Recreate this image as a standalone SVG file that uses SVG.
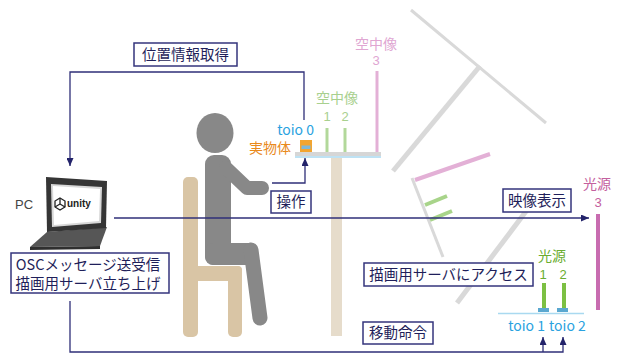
<svg xmlns="http://www.w3.org/2000/svg" width="618" height="354" viewBox="0 0 618 354">
  <style>
    .lbl { font-family: "Noto Sans CJK JP", "Noto Sans", sans-serif; font-size: 14.5px; fill: #1f1f5a; text-anchor: middle; }
    .box { fill: #ffffff; stroke: #34347c; stroke-width: 1.5; }
    .wire { fill: none; stroke: #2f2f78; stroke-width: 1.3; }
    .cjk { font-family: "Noto Sans CJK JP", "Noto Sans", sans-serif; text-anchor: middle; font-size: 14px; }
    .num { font-family: "Liberation Sans", Arial, sans-serif; text-anchor: middle; font-size: 13px; }
    .toio { font-family: "Noto Sans CJK JP", "Noto Sans", sans-serif; font-size: 14px; fill: #2aa2e0; }
    .mirror { stroke: #d9d9d9; fill: none; }
  </style>
  <defs>
    <marker id="arrow" markerUnits="userSpaceOnUse" markerWidth="8" markerHeight="7" refX="8" refY="3.5" orient="auto">
      <path d="M0,0 L8,3.5 L0,7 z" fill="#23236a"/>
    </marker>
  </defs>
  <rect width="618" height="354" fill="#ffffff"/>

  <!-- mirror / half-mirror setup -->
  <g id="optics">
    <line class="mirror" x1="411" y1="10" x2="546" y2="123" stroke-width="3"/>
    <line class="mirror" x1="393" y1="171" x2="480" y2="66" stroke-width="5"/>
    <line class="mirror" x1="412" y1="178" x2="443" y2="257" stroke-width="3"/>
    <line class="mirror" x1="530" y1="206" x2="457" y2="303" stroke-width="5"/>
    <line x1="415" y1="180" x2="490" y2="154" stroke="#e3b0d6" stroke-width="4"/>
    <line x1="425" y1="205" x2="447" y2="196" stroke="#a8d48a" stroke-width="4"/>
    <line x1="430" y1="220" x2="452" y2="211" stroke="#a8d48a" stroke-width="4"/>
  </g>

  <!-- chair -->
  <g id="chair" fill="#d9c5a5">
    <rect x="183" y="177" width="15" height="160" rx="5"/>
    <rect x="183" y="266" width="59" height="15" rx="4"/>
    <rect x="228" y="266" width="14" height="71" rx="5"/>
  </g>

  <!-- seated user -->
  <g id="user" fill="#888888">
    <ellipse cx="215" cy="133" rx="18.5" ry="20"/>
    <rect x="205" y="155" width="26" height="110" rx="9"/>
    <rect x="205" y="243" width="53" height="22" rx="8"/>
    <polyline points="226,168 247,188 262,188" fill="none" stroke="#888888" stroke-width="14" stroke-linejoin="round" stroke-linecap="round"/>
    <line x1="251" y1="250" x2="260" y2="318" stroke="#888888" stroke-width="15" stroke-linecap="round"/>
  </g>

  <!-- table with toio 0 and aerial images -->
  <g id="table">
    <rect x="331" y="158" width="11" height="178" fill="#e6dccb"/>
    <rect x="295" y="152" width="86" height="4" fill="#d6d6d6"/>
    <line x1="295" y1="157" x2="381" y2="157" stroke="#a9d9f0" stroke-width="1.5"/>
  </g>
  <g id="toio0">
    <rect x="300" y="140" width="12" height="12" fill="#f2a531"/>
    <rect x="301.5" y="145.5" width="9" height="3.5" fill="#7fb8d8"/>
    <text class="toio" x="314" y="135" text-anchor="end">toio 0</text>
    <text x="249" y="153" font-family="Noto Sans CJK JP, Noto Sans, sans-serif" font-size="14" fill="#e98a1c">実物体</text>
  </g>
  <g id="aerial12">
    <line x1="327" y1="128" x2="327" y2="152" stroke="#b2d89a" stroke-width="3"/>
    <line x1="345" y1="128" x2="345" y2="152" stroke="#b2d89a" stroke-width="3"/>
    <text class="cjk" x="337" y="103" fill="#a8d08e">空中像</text>
    <text class="num" x="327" y="121" fill="#a8d08e">1</text>
    <text class="num" x="345" y="121" fill="#a8d08e">2</text>
  </g>
  <g id="aerial3">
    <line x1="377" y1="71" x2="377" y2="152" stroke="#e3b0d6" stroke-width="3"/>
    <text class="cjk" x="376" y="49" fill="#e0a6d2">空中像</text>
    <text class="num" x="376" y="65" fill="#e0a6d2">3</text>
  </g>

  <!-- light sources -->
  <g id="source3">
    <line x1="598" y1="214" x2="598" y2="310" stroke="#c86cb0" stroke-width="4"/>
    <text class="cjk" x="597" y="189" fill="#c4609e">光源</text>
    <text class="num" x="598" y="207" fill="#c4609e">3</text>
  </g>
  <g id="source12">
    <line x1="544" y1="283" x2="544" y2="308" stroke="#7cc043" stroke-width="4"/>
    <line x1="564" y1="283" x2="564" y2="308" stroke="#7cc043" stroke-width="4"/>
    <rect x="538" y="308" width="11" height="4" fill="#5aa8d0"/>
    <rect x="557" y="308" width="11" height="4" fill="#5aa8d0"/>
    <line x1="498" y1="313.5" x2="584" y2="313.5" stroke="#a9d9f0" stroke-width="1.5"/>
    <text class="cjk" x="552" y="261" fill="#6aad30">光源</text>
    <text class="num" x="543" y="279" fill="#6aad30">1</text>
    <text class="num" x="563" y="279" fill="#6aad30">2</text>
    <text class="toio" x="545" y="331" text-anchor="end" font-size="14.5">toio 1</text>
    <text class="toio" x="549" y="331" font-size="14.5">toio 2</text>
  </g>

  <!-- PC -->
  <g id="pc">
    <text x="15" y="209" font-family="Liberation Sans, Arial, sans-serif" font-size="13" fill="#444444">PC</text>
    <polygon points="47,232 107,227 100,246 30,247" fill="#565656"/>
    <polygon points="30,247 100,246 100,249 30,250" fill="#2f2f2f"/>
    <polygon points="46,177 107,181 106,228 47,232" fill="#353535"/>
    <polygon points="51,184 102,187 101,223 52,227" fill="#d8d8d8"/>
    <polygon points="53,186 100,189 99,221 54,225" fill="#ffffff"/>
    <g fill="none" stroke="#222222" stroke-width="1.3">
      <polygon points="60,198 65,201 65,207 60,210 55,207 55,201"/>
      <path d="M60,204 L60,198 M60,204 L55,207 M60,204 L65,207"/>
    </g>
    <text x="67" y="207" font-family="Liberation Sans, Arial, sans-serif" font-size="10" font-weight="bold" fill="#222222">unity</text>
  </g>

  <!-- connectors -->
  <g id="connectors">
    <path class="wire" d="M304,120 V72 H70 V166" marker-end="url(#arrow)"/>
    <path class="wire" d="M272,183 H305 V158" marker-end="url(#arrow)"/>
    <path class="wire" d="M114,218 H589" marker-end="url(#arrow)"/>
    <path class="wire" d="M70,301 V352 H563 V337" marker-end="url(#arrow)"/>
    <path class="wire" d="M543,352 V337" marker-end="url(#arrow)"/>
  </g>

  <!-- labels -->
  <g id="label-position">
    <rect class="box" x="134" y="43" width="103" height="23"/>
    <text class="lbl" x="185.5" y="60">位置情報取得</text>
  </g>
  <g id="label-operate">
    <rect class="box" x="271" y="191" width="40" height="22"/>
    <text class="lbl" x="291" y="207">操作</text>
  </g>
  <g id="label-display">
    <rect class="box" x="503" y="189" width="68" height="23"/>
    <text class="lbl" x="537" y="206">映像表示</text>
  </g>
  <g id="label-access">
    <rect class="box" x="364" y="263" width="169" height="23"/>
    <text class="lbl" x="448.5" y="280">描画用サーバにアクセス</text>
  </g>
  <g id="label-move">
    <rect class="box" x="363" y="322" width="70" height="22"/>
    <text class="lbl" x="398" y="338">移動命令</text>
  </g>
  <g id="label-osc">
    <rect class="box" x="11" y="253" width="158" height="40"/>
    <text class="lbl" x="88" y="270">OSCメッセージ送受信</text>
    <text class="lbl" x="88" y="289">描画用サーバ立ち上げ</text>
  </g>
</svg>
